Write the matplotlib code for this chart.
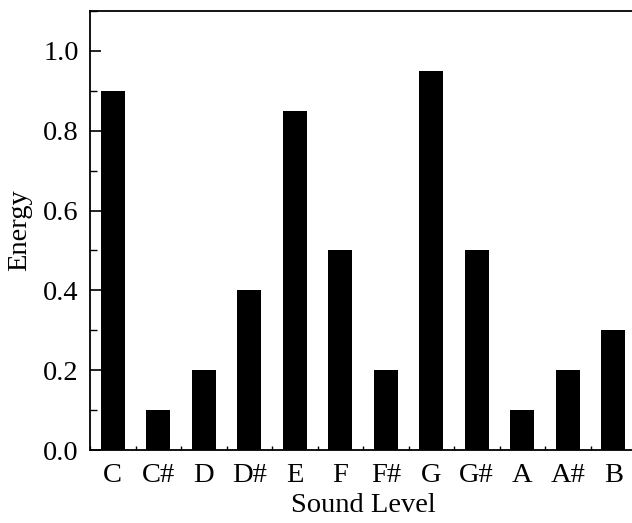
import matplotlib
matplotlib.use("Agg")
import matplotlib.pyplot as plt
from matplotlib.ticker import MultipleLocator
import numpy as np

notes = ['C', 'C#', 'D', 'D#', 'E', 'F', 'F#', 'G', 'G#', 'A', 'A#', 'B']
energy = [0.9, 0.1, 0.2, 0.4, 0.85, 0.5, 0.2, 0.95, 0.5, 0.1, 0.2, 0.3]

plt.rcParams['font.family'] = ['Liberation Serif', 'DejaVu Serif']
plt.rcParams['font.size'] = 20.5

fig = plt.figure(figsize=(6.32, 5.23), dpi=100)
ax = fig.add_axes([90/632, 73/523, 546/632, 439/523])

x = np.arange(len(notes))
ax.bar(x, energy, width=0.52, color='black')

ax.set_xlim(-0.5, 11.5)
ax.set_ylim(0, 1.1)
ax.set_xticks(x)
ax.set_xticklabels(notes)
ax.xaxis.set_minor_locator(MultipleLocator(1, offset=0.5))
ax.yaxis.set_major_locator(MultipleLocator(0.2))
ax.yaxis.set_minor_locator(MultipleLocator(0.1))
ax.set_yticklabels(['%.1f' % v for v in ax.get_yticks()])

ax.tick_params(axis='x', which='major', length=0, pad=9)
ax.tick_params(axis='x', which='minor', direction='in', length=3, width=1)
ax.tick_params(axis='y', which='major', direction='in', length=8, width=1.2, pad=8)
ax.tick_params(axis='y', which='minor', direction='in', length=5, width=1)
for s in ax.spines.values():
    s.set_linewidth(1.3)

ax.set_xlabel('Sound Level', labelpad=4)
ax.set_ylabel('Energy', labelpad=8)

fig.savefig('out.png', dpi=100)
